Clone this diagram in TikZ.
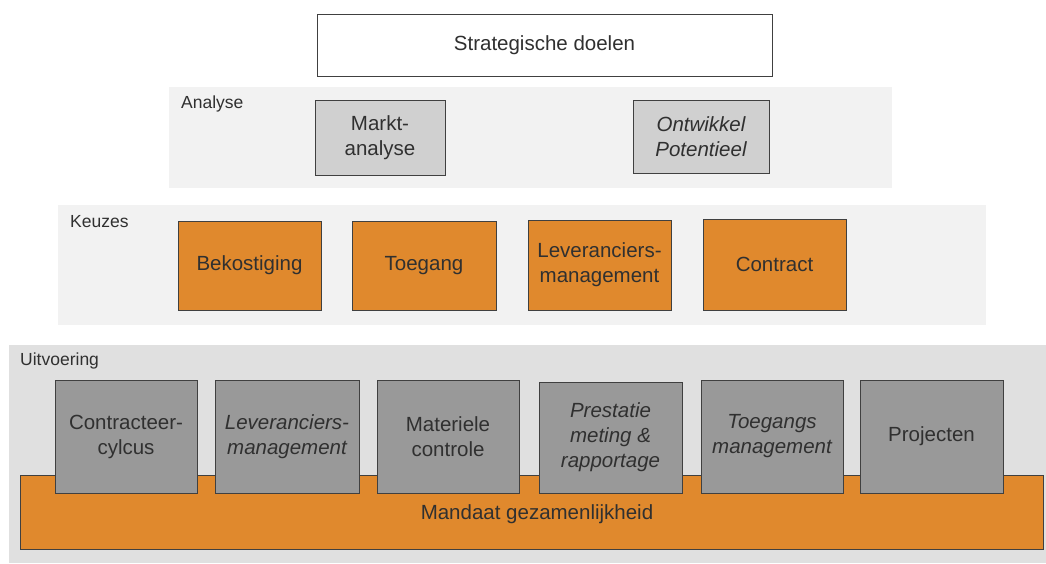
\documentclass[tikz,border=0pt]{standalone}
\usepackage{fontspec}
\setmainfont{Liberation Sans}
\definecolor{orng}{HTML}{E0892D}
\definecolor{dgray}{HTML}{999999}
\definecolor{lgray}{HTML}{D0D0D0}
\definecolor{panelA}{HTML}{F2F2F2}
\definecolor{panelB}{HTML}{E0E0E0}
\definecolor{txt}{HTML}{303030}
\definecolor{edge}{HTML}{404040}
\tikzset{
  panel/.style={draw=none, inner sep=0pt},
  box/.style={draw=edge, line width=0.8pt, inner sep=1pt, align=center, text=txt, font=\fontsize{20.5}{25}\selectfont},
  ibox/.style={box, font=\fontsize{20.5}{25}\selectfont\itshape},
  plabel/.style={anchor=west, text=txt, inner sep=0pt, font=\fontsize{17.5}{20}\selectfont},
}
\begin{document}
\begin{tikzpicture}[x=1pt,y=-1pt]
\useasboundingbox (0,0) rectangle (1046,563);
\fill[white] (0,0) rectangle (1046,563);
% Strategic
\node[box, fill=white, minimum width=455pt, minimum height=62pt] (strat) at (544.5,45) {Strategische doelen};
% Analyse
\node[panel, fill=panelA, minimum width=723pt, minimum height=101pt] (analyse) at (530.5,137.5) {};
\node[plabel] (lanalyse) at (181,104) {Analyse};
\node[box, fill=lgray, minimum width=130pt, minimum height=75pt] (markt) at (380,137.5) {Markt-\\analyse};
\node[ibox, fill=lgray, minimum width=136pt, minimum height=73pt] (ontw) at (701,136.5) {Ontwikkel\\Potentieel};
% Keuzes
\node[panel, fill=panelA, minimum width=928pt, minimum height=120pt] (keuzes) at (522,265) {};
\node[plabel] (lkeuzes) at (70,222) {Keuzes};
\node[box, fill=orng, minimum width=143pt, minimum height=89pt] (bek) at (249.5,265.5) {Bekostiging};
\node[box, fill=orng, minimum width=144pt, minimum height=89pt] (toe) at (424,265.5) {Toegang};
\node[box, fill=orng, minimum width=143pt, minimum height=90pt] (lev) at (599.5,265) {Leveranciers-\\management};
\node[box, fill=orng, minimum width=143pt, minimum height=91pt] (con) at (774.5,264.5) {Contract};
% Uitvoering
\node[panel, fill=panelB, minimum width=1037pt, minimum height=218pt] (uitv) at (527.5,454) {};
\node[plabel] (luitv) at (20,361) {Uitvoering};
\node[box, fill=orng, minimum width=1023pt, minimum height=74pt] (mandaat) at (531.5,512) {};
\node[text=txt, font=\fontsize{20.5}{25}\selectfont] (mtext) at (537,514) {Mandaat gezamenlijkheid};
\node[box, fill=dgray, minimum width=142pt, minimum height=113pt] (cc) at (126,436.5) {Contracteer-\\cylcus};
\node[ibox, fill=dgray, minimum width=144pt, minimum height=113pt] (lm) at (287,436.5) {Leveranciers-\\management};
\node[box, fill=dgray, minimum width=142pt, minimum height=113pt] (mc) at (448,436.5) {Materiele\\controle};
\node[ibox, fill=dgray, minimum width=143pt, minimum height=111pt] (pm) at (610.5,437.5) {Prestatie\\meting \&\\rapportage};
\node[ibox, fill=dgray, minimum width=142pt, minimum height=113pt] (tm) at (772,436.5) {Toegangs\\management};
\node[box, fill=dgray, minimum width=143pt, minimum height=113pt] (pr) at (931.5,436.5) {Projecten};
\end{tikzpicture}
\end{document}
